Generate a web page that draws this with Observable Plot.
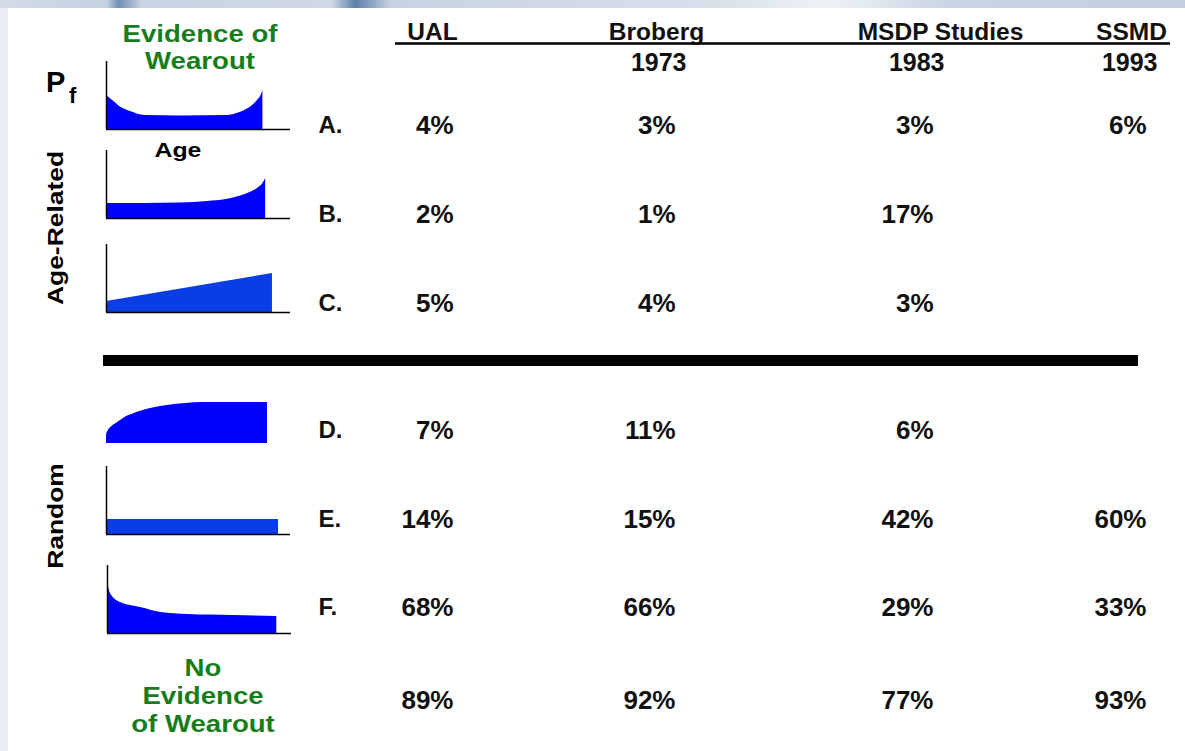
<!DOCTYPE html>
<html>
<head>
<meta charset="utf-8">
<script src="https://cdn.jsdelivr.net/npm/d3@7"></script>
<script src="https://cdn.jsdelivr.net/npm/@observablehq/plot@0.6"></script>
<style>
  html, body { margin: 0; padding: 0; background: #e9eef5; }
  #page { position: relative; width: 1185px; height: 751px; overflow: hidden;
          font-family: "Liberation Sans", Arial, sans-serif; font-weight: bold; }
  #topband { position: absolute; left: 0; top: 0; width: 1185px; height: 8px;
             background: linear-gradient(90deg, #d3dce8 0%, #c4d1e0 9%, #6f8fb3 10%, #c8d4e2 12%, #cfd9e5 28%, #5b7fa8 30%, #c7d3e1 33%, #d8e0ea 60%, #eef2f7 70%, #c9d5e3 80%, #c3cfdf 100%); }
  #panel { position: absolute; left: 8px; top: 8px; right: 0; bottom: 0; background: #ffffff; }
  .layer { position: absolute; left: 0; top: 0; }
  .lab { position: absolute; white-space: pre; line-height: 1; transform-origin: center; color: #000; }
  .green { color: #177d1c; text-align: center; }
</style>
</head>
<body>
<div id="page">
  <div id="topband"></div>
  <div id="panel"></div>
</div>
<script>
// ---------------- data ----------------
const patterns = ["A", "B", "C", "D", "E", "F"];
const studies = ["UAL", "Broberg", "MSDP Studies", "SSMD"];
const studyYears = [null, "1973", "1983", "1993"];
const shareUAL     = [4, 2, 5, 7, 14, 68];
const shareBroberg = [3, 1, 4, 11, 15, 66];
const shareMSDP    = [3, 17, 3, 6, 42, 29];
const shareSSMD    = [6, null, null, null, 60, 33];
const noWearoutTotals = [89, 92, 77, 93];

// conditional probability of failure (Pf) vs age, for each pattern: [age, Pf]
const curveA = [[0,34],[4,28],[8,22],[13,18],[21,14],[40,13.5],[66,14],[71,16],[77,21],[80,25],[82,29],[84,34],[85,39]];
const curveB = [[0,15],[20,15],[40,15.5],[55,17],[65,19],[72,22],[78,26],[82,30],[85,35],[86.5,40]];
const curveC = [[0,11],[90.2,39]];
const curveD = [[0,9],[1,13],[3,17],[6,21],[10,26],[15,30],[24,35],[33,38],[43,40],[52,41],[87.5,41]];
const curveE = [[0,15],[93.5,15]];
const curveF = [[0,51],[1.6,40],[7,31],[18,26],[29,21],[43.5,19],[68.5,18],[92,17]];

// ---------------- layout & styles (not data) ----------------
const FONT = "Liberation Sans, Arial, Helvetica, sans-serif";
const BLUE = "#0000ff";
const BLUE2 = "#0a3de6";
const GREEN = "#177d1c";

const page = document.getElementById("page");

function stretchText(svg, label, f) {
  svg.querySelectorAll(`g[aria-label="${label}"] text`).forEach(t => {
    t.setAttribute("transform", (t.getAttribute("transform") || "") + ` scale(${f},1)`);
  });
}
function place(node, left, top) {
  const wrap = document.createElement("div");
  wrap.className = "layer";
  wrap.style.left = left + "px";
  wrap.style.top = top + "px";
  wrap.appendChild(node);
  page.appendChild(wrap);
}

// ---------------- table body ----------------
const series = [shareUAL, shareBroberg, shareMSDP, shareSSMD];
const cells = patterns.flatMap((p, i) =>
  studies.map((s, j) => ({row: i, col: j, v: series[j][i]}))).filter(d => d.v != null);
const totalRow = patterns.length;
const yearRow = -1;
const sepIndex = (patterns.indexOf("C") + patterns.indexOf("D")) / 2;
const totals = noWearoutTotals.map((v, j) => ({row: totalRow, col: j, v}));
const yearCells = studyYears.map((y, j) => ({col: j, year: y})).filter(d => d.year);
const letters = patterns.map((p, i) => ({row: i, label: p + "."}));

const body = Plot.plot({
  width: 1185, height: 751,
  marginLeft: 103, marginRight: 47, marginTop: 0, marginBottom: 0,
  style: {background: "transparent", fontFamily: FONT},
  x: {type: "linear", domain: [-1, 0, 1, 2, 3], range: [318, 453, 675, 933, 1146], axis: null},
  y: {type: "linear", domain: [yearRow, 0, 1, 2, sepIndex, 3, 4, 5, totalRow],
      range: [62, 125, 214, 303, 360, 430, 519, 607, 700], axis: null},
  marks: [
    Plot.ruleY([sepIndex], {stroke: "black", strokeWidth: 11}),
    Plot.text(yearCells, {x: "col", y: yearRow, text: "year", textAnchor: "end", dx: 11,
      fontSize: 25, fontWeight: "bold", fill: "#111"}),
    Plot.text(letters, {x: -1, y: "row", text: "label", textAnchor: "start",
      fontSize: 24, fontWeight: "bold", fill: "#111", ariaLabel: "letters"}),
    Plot.text(cells, {x: "col", y: "row", text: d => d.v + "%", textAnchor: "end",
      fontSize: 26, fontWeight: "bold", fill: "#111"}),
    Plot.text(totals, {x: "col", y: "row", text: d => d.v + "%", textAnchor: "end",
      fontSize: 26, fontWeight: "bold", fill: "#111"})
  ]
});
stretchText(body, "letters", 1.05);
place(body, 0, 0);

// ---------------- column header ----------------
const header = Plot.plot({
  width: 1185, height: 60,
  marginLeft: 395, marginRight: 15, marginTop: 0, marginBottom: 0,
  style: {background: "transparent", fontFamily: FONT},
  x: {type: "linear", domain: [0, 1, 2, 3], range: [432, 656, 940, 1131], axis: null},
  y: {type: "linear", domain: [0, 1], range: [32, 43], axis: null},
  marks: [
    Plot.text(studies, {x: (d, i) => i, y: 0, text: d => d, fontSize: 24.5, fontWeight: "bold",
      fill: "#111", ariaLabel: "headers"}),
    Plot.ruleY([1], {stroke: "black", strokeWidth: 2.5})
  ]
});
stretchText(header, "headers", 1.09);
place(header, 0, 0);

// ---------------- failure pattern curves ----------------
const curveLayout = [
  {data: curveA, color: BLUE,  axes: true,  left: 102, top: 55},
  {data: curveB, color: BLUE,  axes: true,  left: 102, top: 144},
  {data: curveC, color: BLUE2, axes: true,  left: 102, top: 238},
  {data: curveD, color: BLUE,  axes: false, left: 102, top: 369},
  {data: curveE, color: BLUE2, axes: true,  left: 102, top: 460},
  {data: curveF, color: BLUE,  axes: true,  left: 103, top: 559}
];
curveLayout.forEach(c => {
  const p = Plot.plot({
    width: 192, height: 78, marginLeft: 4, marginRight: 4, marginTop: 4, marginBottom: 4,
    style: {background: "transparent", overflow: "visible"},
    x: {domain: [0, 100], axis: null},
    y: {domain: [0, 70], axis: null},
    marks: [
      Plot.areaY(c.data, {x: d => d[0], y: d => d[1], fill: c.color, curve: "monotone-x"}),
      c.axes ? Plot.ruleX([0], {y1: 0, y2: 68, stroke: "black", strokeWidth: 1.5}) : null,
      c.axes ? Plot.ruleY([0], {x1: 0, x2: 100, stroke: "black", strokeWidth: 1.5}) : null
    ]
  });
  place(p, c.left, c.top);
});

// ---------------- annotations ----------------
function label(text, css) {
  const d = document.createElement("div");
  d.className = "lab" + (css.cls ? " " + css.cls : "");
  d.textContent = text;
  Object.assign(d.style, css.style);
  page.appendChild(d);
  return d;
}
label("Evidence of\nWearout", {cls: "green", style: {left: "200px", top: "20.5px", fontSize: "23px",
  lineHeight: "27px", color: GREEN, transform: "translateX(-50%) scaleX(1.2)"}});
label("No\nEvidence\nof Wearout", {cls: "green", style: {left: "203px", top: "654px", fontSize: "23px",
  lineHeight: "28px", color: GREEN, transform: "translateX(-50%) scaleX(1.2)"}});
label("P", {style: {left: "46px", top: "68px", fontSize: "29px"}});
label("f", {style: {left: "69px", top: "85px", fontSize: "22px"}});
label("Age", {style: {left: "178px", top: "140px", fontSize: "20px", transform: "translateX(-50%) scaleX(1.24)"}});
label("Age-Related", {style: {left: "56px", top: "228px", fontSize: "22px",
  transform: "translate(-50%,-50%) rotate(-90deg) scaleX(1.2)"}});
label("Random", {style: {left: "56px", top: "516px", fontSize: "22px",
  transform: "translate(-50%,-50%) rotate(-90deg) scaleX(1.2)"}});
</script>
</body>
</html>
